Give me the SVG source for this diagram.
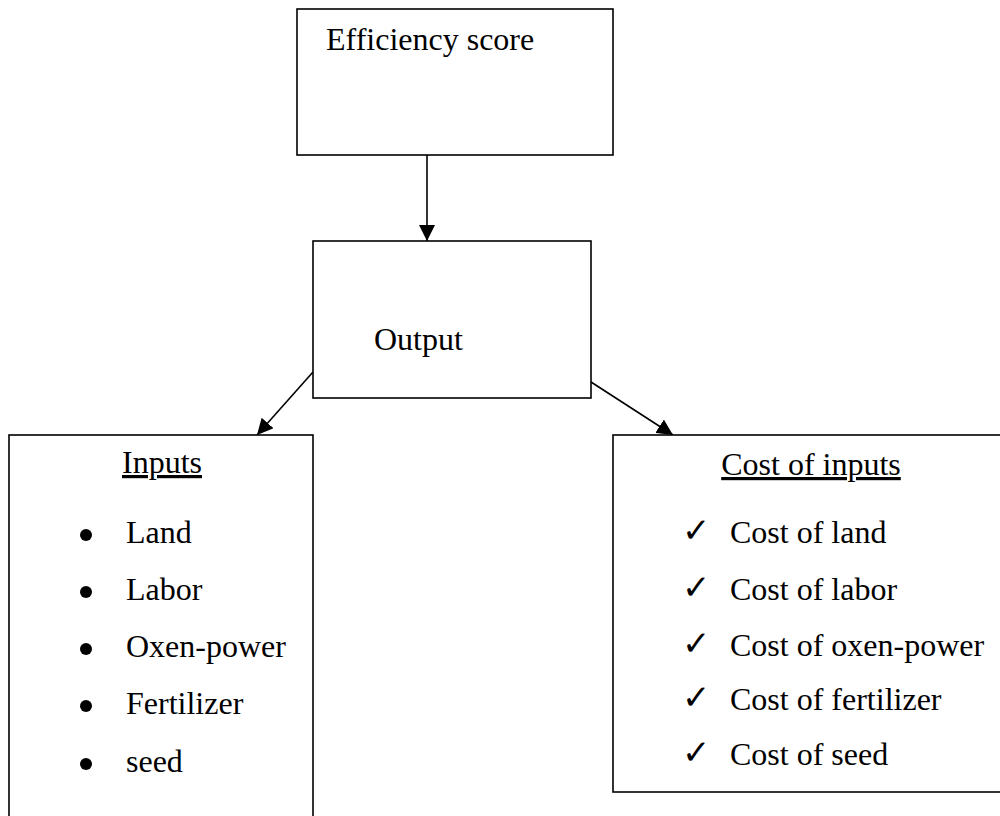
<svg xmlns="http://www.w3.org/2000/svg" width="1000" height="816" viewBox="0 0 1000 816">
<style>
.box{fill:#fff;stroke:#000;stroke-width:1.6}
.t{font-family:"Liberation Serif","Times New Roman",serif;font-size:32px;fill:#000}
.u{text-decoration:underline}
.bul{fill:#000}
.chk{font-family:"DejaVu Sans",sans-serif;font-size:34px;fill:#000}
.con{stroke:#000;stroke-width:1.6;fill:none;marker-end:url(#ah)}
</style>
<defs>
<marker id="ah" markerWidth="16" markerHeight="16" viewBox="0 0 16 16" refX="16" refY="8" orient="auto" markerUnits="userSpaceOnUse">
<path d="M0,0 L16,8 L0,16 Z" fill="#000"/>
</marker>
</defs>
<rect width="1000" height="816" fill="#fff"/>
<g id="connectors">
<line class="con" x1="427" y1="155" x2="427" y2="241"/>
<line class="con" x1="313" y1="372" x2="257" y2="435"/>
<line class="con" x1="591" y1="382" x2="673" y2="435"/>
</g>
<g id="efficiency">
<rect class="box" x="297" y="9" width="316" height="146"/>
<text class="t" x="326" y="50">Efficiency score</text>
</g>
<g id="output">
<rect class="box" x="313" y="241" width="278" height="157"/>
<text class="t" x="374" y="350">Output</text>
</g>
<g id="inputs">
<rect class="box" x="9" y="435" width="304" height="400"/>
<text class="t u" x="162" y="473" text-anchor="middle">Inputs</text>
<circle class="bul" cx="86" cy="535" r="6"/>
<text class="t" x="126" y="543">Land</text>
<circle class="bul" cx="86" cy="592" r="6"/>
<text class="t" x="126" y="600">Labor</text>
<circle class="bul" cx="86" cy="649" r="6"/>
<text class="t" x="126" y="657">Oxen-power</text>
<circle class="bul" cx="86" cy="706" r="6"/>
<text class="t" x="126" y="714">Fertilizer</text>
<circle class="bul" cx="86" cy="764" r="6"/>
<text class="t" x="126" y="772">seed</text>
</g>
<g id="costs">
<rect class="box" x="613" y="435" width="400" height="357"/>
<text class="t u" x="811" y="475" text-anchor="middle">Cost of inputs</text>
<text class="chk" x="682" y="542">✓</text>
<text class="t" x="730" y="543">Cost of land</text>
<text class="chk" x="682" y="599">✓</text>
<text class="t" x="730" y="600">Cost of labor</text>
<text class="chk" x="682" y="655">✓</text>
<text class="t" x="730" y="656">Cost of oxen-power</text>
<text class="chk" x="682" y="709">✓</text>
<text class="t" x="730" y="710">Cost of fertilizer</text>
<text class="chk" x="682" y="764">✓</text>
<text class="t" x="730" y="765">Cost of seed</text>
</g>
</svg>
